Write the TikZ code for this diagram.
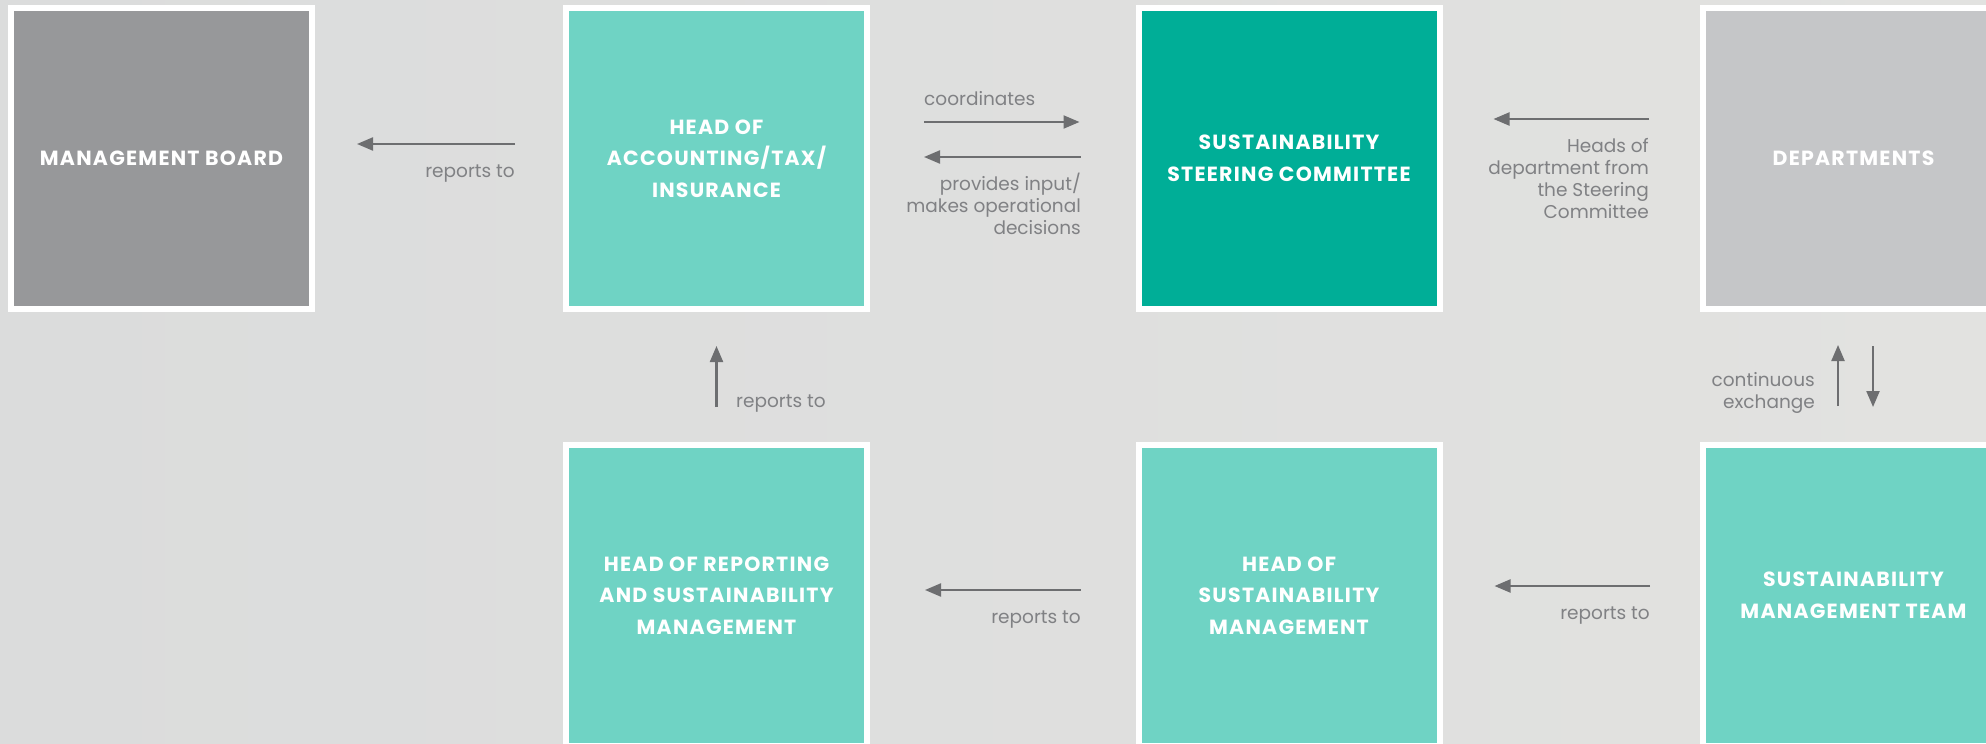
\documentclass[tikz,border=0pt]{standalone}
\usepackage{fontspec}
\setmainfont{Poppins}
\newfontfamily\boxfont[LetterSpace=6]{Poppins}
\usetikzlibrary{arrows.meta}

\definecolor{bgleft}{HTML}{DBDCDC}
\definecolor{bgright}{HTML}{E2E2E0}
\definecolor{boardgrey}{HTML}{97989A}
\definecolor{deptgrey}{HTML}{C5C6C8}
\definecolor{tealLight}{HTML}{6FD3C4}
\definecolor{tealDark}{HTML}{00AE97}
\definecolor{arrowgrey}{HTML}{6D6E70}
\definecolor{labelgrey}{HTML}{808184}

\tikzset{
  unitbox/.style={draw=white, line width=6pt, minimum width=301pt, minimum height=301pt,
    inner sep=0pt, align=center, text=white,
    font=\boxfont\fontsize{20.5}{31.7}\selectfont\bfseries},
  flow/.style={draw=arrowgrey, line width=2.2pt,
    -{Triangle[length=16pt,width=13pt]}},
  note/.style={text=labelgrey, inner sep=0pt,
    font=\fontsize{18.5}{21.7}\selectfont}
}

\begin{document}
\begin{tikzpicture}[x=1pt, y=-1pt]
  % backdrop
  \useasboundingbox (0,0) rectangle (1986,744);
  \shade[left color=bgleft, right color=bgright] (0,0) rectangle (1986,744);

  % top row
  \node[unitbox, fill=boardgrey] (board) at (161.5,158.5) {MANAGEMENT BOARD};
  \node[unitbox, fill=tealLight] (acc) at (716.5,158.5) {HEAD OF\\ACCOUNTING/TAX/\\INSURANCE};
  \node[unitbox, fill=tealDark] (steer) at (1289,158.5) {SUSTAINABILITY\\STEERING COMMITTEE};
  \node[unitbox, fill=deptgrey] (dept) at (1853.5,158.5) {DEPARTMENTS};

  % bottom row
  \node[unitbox, fill=tealLight] (rep) at (716.5,595.5) {HEAD OF REPORTING\\AND SUSTAINABILITY\\MANAGEMENT};
  \node[unitbox, fill=tealLight] (sushead) at (1289,595.5) {HEAD OF\\SUSTAINABILITY\\MANAGEMENT};
  \node[unitbox, fill=tealLight] (team) at (1853.5,595.5) {SUSTAINABILITY\\MANAGEMENT TEAM};

  % connectors
  \draw[flow, shorten <=48pt, shorten >=42pt] ([yshift=14.5pt]acc.west) -- ([yshift=14.5pt]board.east);
  \draw[flow, shorten <=54pt, shorten >=56pt] ([yshift=36.5pt]acc.east) -- ([yshift=36.5pt]steer.west);
  \draw[flow, shorten <=55pt, shorten >=54pt] ([yshift=1.5pt]steer.west) -- ([yshift=1.5pt]acc.east);
  \draw[flow, shorten <=51pt, shorten >=51pt] ([yshift=39.5pt]dept.west) -- ([yshift=39.5pt]steer.east);
  \draw[flow, shorten <=35pt, shorten >=34pt] (rep.north) -- (acc.south);
  \draw[flow, shorten <=36pt, shorten >=33pt] ([xshift=-15.5pt]team.north) -- ([xshift=-15.5pt]dept.south);
  \draw[flow, shorten <=34pt, shorten >=35pt] ([xshift=19.5pt]dept.south) -- ([xshift=19.5pt]team.north);
  \draw[flow, shorten <=55pt, shorten >=55pt] ([yshift=5.5pt]sushead.west) -- ([yshift=5.5pt]rep.east);
  \draw[flow, shorten <=50pt, shorten >=52pt] ([yshift=9.5pt]team.west) -- ([yshift=9.5pt]sushead.east);

  % connector labels (multi-line ones are placed by their last line)
  \node[note, anchor=base east] (l1) at (515,177) {reports to};
  \node[note, anchor=base west] (l2) at (924,105) {coordinates};
  \node[note, anchor=base east, align=right] (l3) at (1081,234) {provides input/\\makes operational\\decisions};
  \node[note, anchor=base east, align=right] (l4) at (1649,218) {Heads of\\department from\\the Steering\\Committee};
  \node[note, anchor=base west] (l5) at (736,407) {reports to};
  \node[note, anchor=base east, align=right] (l6) at (1815,408) {continuous\\exchange};
  \node[note, anchor=base east] (l7) at (1081,623) {reports to};
  \node[note, anchor=base east] (l8) at (1650,619) {reports to};
\end{tikzpicture}
\end{document}
